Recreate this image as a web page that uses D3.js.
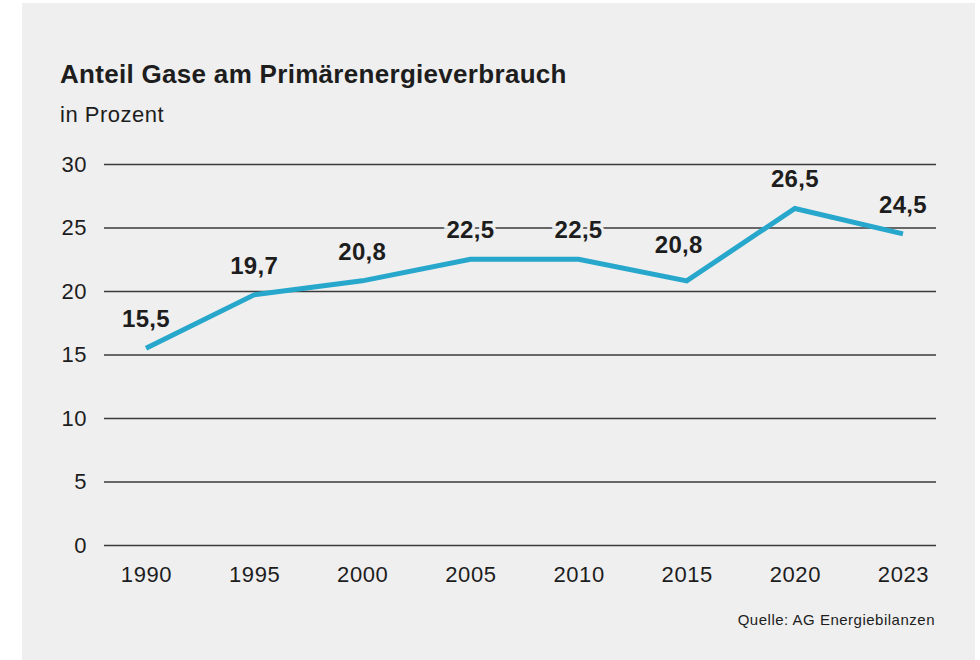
<!DOCTYPE html>
<html>
<head>
<meta charset="utf-8">
<script src="https://cdn.jsdelivr.net/npm/d3@7"></script>
<style>
  body { margin: 0; background: #fff; }
  text { font-family: "Liberation Sans", Arial, sans-serif; fill: #1d1d1d; }
</style>
</head>
<body>
<div id="chart"></div>
<script>
// Anteil Gase am Primärenergieverbrauch, in Prozent
const years = ["1990", "1995", "2000", "2005", "2010", "2015", "2020", "2023"];
const shares = [15.5, 19.7, 20.8, 22.5, 22.5, 20.8, 26.5, 24.5];
const yTicks = [0, 5, 10, 15, 20, 25, 30];

const W = 980, H = 660;
const bg = "#efefef";

const svg = d3.select("#chart").append("svg")
    .attr("width", W)
    .attr("height", H);

// grey panel
svg.append("rect")
    .attr("x", 22).attr("y", 3)
    .attr("width", 953).attr("height", 657)
    .attr("fill", bg);

svg.append("text")
    .attr("x", 60).attr("y", 83)
    .style("font-size", "26px")
    .style("font-weight", "bold")
    .style("letter-spacing", "0.3px")
    .text("Anteil Gase am Primärenergieverbrauch");

svg.append("text")
    .attr("x", 60).attr("y", 122)
    .style("font-size", "22px")
    .style("letter-spacing", "0.5px")
    .text("in Prozent");

const x = d3.scalePoint()
    .domain(years)
    .range([146, 903]);

const y = d3.scaleLinear()
    .domain([0, 30])
    .range([545, 164]);

// gridlines + y labels
const yAxis = d3.axisLeft(y)
    .tickValues(yTicks)
    .tickSize(-(936 - 104))
    .tickPadding(17);

const gy = svg.append("g")
    .attr("transform", "translate(104,0)")
    .call(yAxis);
gy.select(".domain").remove();
gy.selectAll(".tick line")
    .attr("stroke", "#3a3a3a")
    .attr("stroke-width", 1.3)
    .attr("x1", 0);
gy.selectAll(".tick text")
    .attr("fill", "#1d1d1d")
    .style("font-size", "22px")
    .style("letter-spacing", "0.5px")
    .style("font-family", "'Liberation Sans', Arial, sans-serif");

// x labels
const xAxis = d3.axisBottom(x).tickSize(0).tickPadding(0);
const gx = svg.append("g")
    .attr("transform", "translate(0,566)")
    .call(xAxis);
gx.select(".domain").remove();
gx.selectAll(".tick text")
    .attr("fill", "#1d1d1d")
    .attr("dy", "0.71em")
    .style("font-size", "22px")
    .style("letter-spacing", "0.6px")
    .style("font-family", "'Liberation Sans', Arial, sans-serif");

const data = years.map((d, i) => ({ year: d, value: shares[i] }));

const line = d3.line()
    .x(d => x(d.year))
    .y(d => y(d.value));

svg.append("path")
    .datum(data)
    .attr("d", line)
    .attr("fill", "none")
    .attr("stroke", "#27a7cb")
    .attr("stroke-width", 5)
    .attr("stroke-linejoin", "miter");

// value labels with a halo so the gridline breaks around them
svg.selectAll(".val")
    .data(data)
    .enter().append("text")
    .attr("class", "val")
    .attr("x", d => x(d.year) + (d.year === "2015" ? -8 : 0))
    .attr("y", d => y(d.value) - (d.year === "2015" ? 28 : 21))
    .attr("text-anchor", "middle")
    .style("font-size", "24px")
    .style("font-weight", "bold")
    .style("letter-spacing", "0.3px")
    .style("paint-order", "stroke")
    .style("stroke", bg)
    .style("stroke-width", 6)
    .text(d => String(d.value).replace(".", ","));

svg.append("text")
    .attr("x", 935).attr("y", 625)
    .attr("text-anchor", "end")
    .style("font-size", "15px")
    .style("letter-spacing", "0.5px")
    .text("Quelle: AG Energiebilanzen");
</script>
</body>
</html>
